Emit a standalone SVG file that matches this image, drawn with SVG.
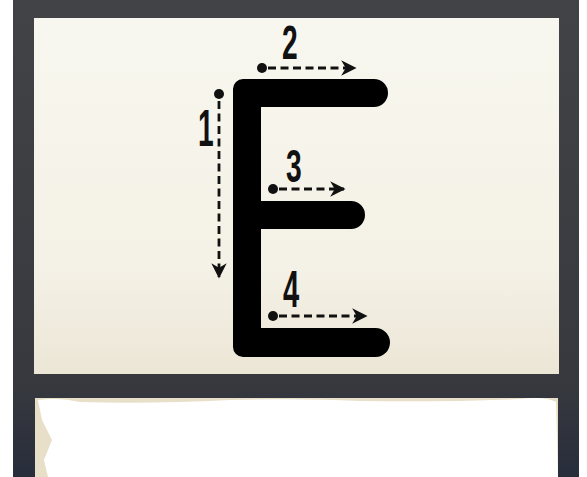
<svg xmlns="http://www.w3.org/2000/svg" width="587" height="477" viewBox="0 0 587 477">
  <defs>
    <linearGradient id="frameGrad" x1="0" y1="0" x2="0" y2="1">
      <stop offset="0" stop-color="#414346"/>
      <stop offset="0.8" stop-color="#37393e"/>
      <stop offset="1" stop-color="#282d3b"/>
    </linearGradient>
    <linearGradient id="boardGrad" x1="0" y1="0" x2="0" y2="1">
      <stop offset="0" stop-color="#f8f7ef"/>
      <stop offset="0.7" stop-color="#f4f1e6"/>
      <stop offset="1" stop-color="#ece6d6"/>
    </linearGradient>
    <marker id="arrow" viewBox="0 0 10 10" refX="9" refY="5" markerWidth="5.5" markerHeight="5.5" markerUnits="strokeWidth" orient="auto">
      <path d="M0,0 L10,5 L0,10 L3,5 Z" fill="#111"/>
    </marker>
  </defs>
  <style>
    .dash { fill: none; stroke: #111; stroke-width: 2.8; stroke-dasharray: 8 4.5; }
    .dot { fill: #111; }
    .num { font-family: "Liberation Sans", "Arial", sans-serif; font-weight: bold; font-size: 47px; fill: #111; }
  </style>

  <!-- background / frame -->
  <rect x="0" y="0" width="587" height="477" fill="#ffffff"/>
  <rect x="13" y="0" width="566" height="477" fill="url(#frameGrad)"/>
  <rect x="34" y="18" width="525" height="356" fill="url(#boardGrad)"/>
  <!-- lower white area -->
  <path d="M35,398 L558,398 L558,477 L35,477 Z" fill="#e8dfc9"/>
  <path d="M38,400 Q60,397 80,402 Q150,404 230,400 Q300,398 360,401 Q450,402 520,399 Q545,396 556,402 L558,477 L48,477 L44,460 L52,440 L42,420 Z" fill="#ffffff"/>

  <!-- letter E -->
  <g id="letter-E">
    <path d="M243,79 L374,79 A14,14 0 0 1 374,107 L261,107 L261,201 L351,201 A14,14 0 0 1 351,229 L261,229 L261,328 L375.5,328 A14.5,14.5 0 0 1 375.5,357 L243,357 A10,10 0 0 1 233,347 L233,89 A10,10 0 0 1 243,79 Z" fill="#000"/>
  </g>

  <!-- stroke-order connectors -->
  <g id="connectors">
    <line class="dash" x1="219" y1="101" x2="219" y2="277" marker-end="url(#arrow)"/>
    <line class="dash" x1="268" y1="68" x2="355" y2="68" marker-end="url(#arrow)"/>
    <line class="dash" x1="279" y1="189" x2="344" y2="189" marker-end="url(#arrow)"/>
    <line class="dash" x1="279" y1="316" x2="366" y2="316" marker-end="url(#arrow)"/>
  </g>

  <g id="step-1">
    <circle class="dot" cx="219" cy="94" r="5"/>
    <text class="num" transform="translate(198,146) scale(0.6,1.1)">1</text>
  </g>
  <g id="step-2">
    <circle class="dot" cx="262" cy="68" r="5"/>
    <text class="num" transform="translate(282,59) scale(0.6,1.02)">2</text>
  </g>
  <g id="step-3">
    <circle class="dot" cx="273" cy="189" r="5"/>
    <text class="num" transform="translate(286,182) scale(0.6,1)">3</text>
  </g>
  <g id="step-4">
    <circle class="dot" cx="273" cy="316" r="5"/>
    <text class="num" transform="translate(283,307) scale(0.62,1.12)">4</text>
  </g>
</svg>
